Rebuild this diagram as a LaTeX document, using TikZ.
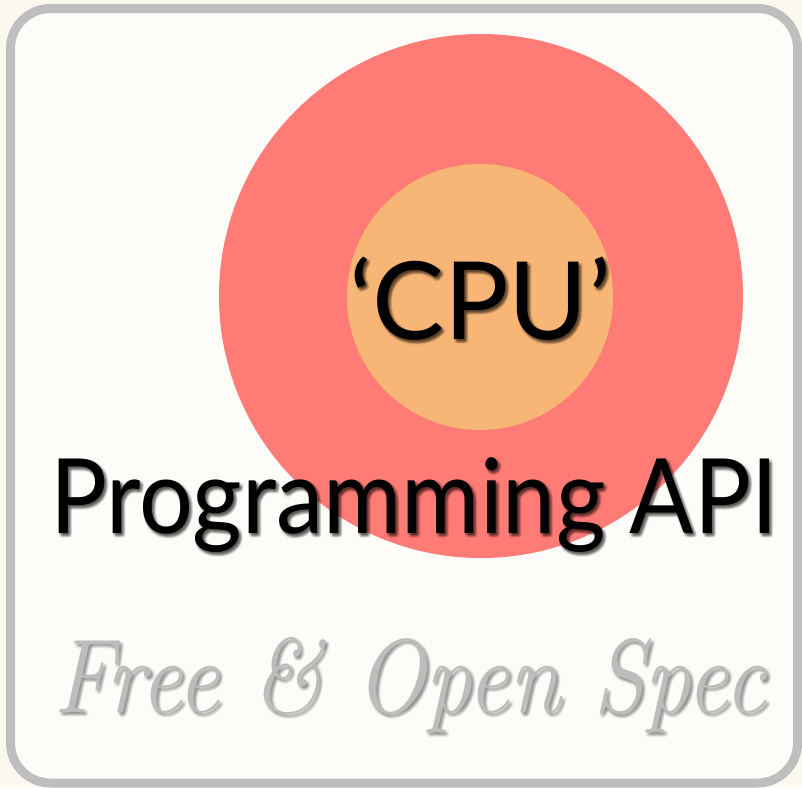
\documentclass[tikz,border=0pt]{standalone}
\usepackage{fontspec}
\usepackage{graphicx}
\newfontfamily\gillsub{Lato}
\definecolor{paper}{HTML}{FBF8F0}
\definecolor{panel}{HTML}{FDFCF8}
\definecolor{frame}{HTML}{BEBEBE}
\definecolor{ringred}{HTML}{FF7B75}
\definecolor{coreorange}{HTML}{F8B676}
\definecolor{mutedgray}{HTML}{BDBDBD}
\tikzset{
  disc/.style={circle, inner sep=0pt, draw=none},
  shadowcopy/.style={text=black, opacity=0.06, inner sep=0pt, anchor=base},
  label/.style={inner sep=0pt, anchor=base},
}
% the three captions, each fitted to its width at its natural height
\newcommand{\cputext}{\resizebox{262pt}{\height}{\gillsub\fontsize{108}{120}\selectfont ‘CPU’}}
\newcommand{\apitext}{\resizebox{728pt}{\height}{\gillsub\fontsize{104}{120}\selectfont Programming API}}
\newcommand{\spectext}{\resizebox{712pt}{\height}{\itshape\fontsize{105}{115}\selectfont Free \& Open Spec}}
\begin{document}
\begin{tikzpicture}[x=1pt,y=-1pt]
  % canvas
  \fill[paper] (0,0) rectangle (802,787);
  \useasboundingbox (0,0) rectangle (802,787);
  % framed panel
  \draw[frame, line width=9pt, fill=panel, rounded corners=40pt] (10.5,8.5) rectangle (797.5,783);
  % concentric discs
  \node[disc, fill=ringred, minimum size=524pt] (ring) at (481,296) {};
  \node[disc, fill=coreorange, minimum size=266pt] (core) at (480,297) {};
  % soft drop shadows under the labels
  \foreach \dx/\dy in {0/2,1/2,2/2,3/2,1/3,2/3,3/3,4/3,2/4,3/4,2/5,1/1,3/1,4/4,0/4,4/1}{
    \node[shadowcopy] at (480+\dx,339+\dy) {\cputext};
    \node[shadowcopy] at (414+\dx,533+\dy) {\apitext};
    \node[shadowcopy, opacity=0.03] at (410+\dx,712+\dy) {\spectext};
  }
  % labels
  \node[label] (cpu) at (480,339) {\cputext};
  \node[label] (api) at (414,533) {\apitext};
  \node[label, text=mutedgray] (spec) at (410,712) {\spectext};
\end{tikzpicture}
\end{document}
